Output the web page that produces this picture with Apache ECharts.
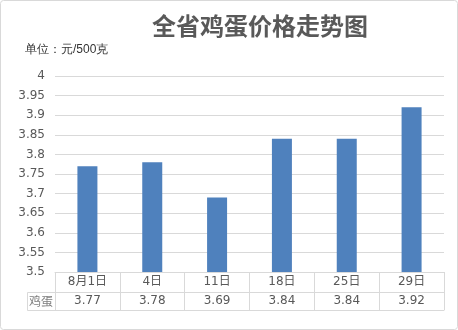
<!DOCTYPE html>
<html><head><meta charset="utf-8">
<script src="https://cdn.jsdelivr.net/npm/echarts@6/dist/echarts.min.js"></script>
<style>html,body{margin:0;padding:0;background:#fff}#c{width:458px;height:330px}</style>
</head><body><div id="c"></div>
<script>
const categories = ['8月1日', '4日', '11日', '18日', '25日', '29日'];
const eggPrices = [3.77, 3.78, 3.69, 3.84, 3.84, 3.92];
const seriesName = '鸡蛋';
const titleText = '全省鸡蛋价格走势图';
const unitText = '单位：元/500克';
const yMin = 3.5, yMax = 4, yStep = 0.05;

const grey = '#595959', line = '#d9d9d9';
const font = '"DejaVu Sans","Noto Sans CJK SC",sans-serif';
const chart = echarts.init(document.getElementById('c'));
chart.setOption({
  animation: false,
  backgroundColor: '#fff',
  title: {
    text: titleText, left: 255, textAlign: 'center', top: 9,
    textStyle: {fontSize: 24, fontWeight: 'bold', color: grey, fontFamily: '"Noto Sans CJK SC",sans-serif'}
  },
  grid: {left: 55, right: 14, top: 76, bottom: 58},
  xAxis: [
    {type: 'category', data: categories, position: 'bottom',
     axisLine: {show: true, lineStyle: {color: line}},
     axisTick: {show: true, length: 38, lineStyle: {color: line}},
     axisLabel: {margin: 4, color: grey, fontSize: 12, fontFamily: font}},
    {type: 'category', data: eggPrices.map(v => v.toFixed(2)), position: 'bottom', offset: 20,
     axisLine: {show: true, lineStyle: {color: line}},
     axisTick: {show: false},
     axisLabel: {margin: 3, color: grey, fontSize: 12, fontFamily: font}},
    {type: 'category', data: categories, position: 'bottom', offset: 38,
     axisLine: {show: true, lineStyle: {color: line}},
     axisTick: {show: false}, axisLabel: {show: false}}
  ],
  yAxis: {
    type: 'value', min: yMin, max: yMax, interval: yStep,
    axisLine: {show: false}, axisTick: {show: false},
    splitLine: {lineStyle: {color: line}},
    axisLabel: {margin: 10, color: grey, fontSize: 12, fontFamily: font,
      formatter: v => String(parseFloat(v.toFixed(2)))}
  },
  series: [{
    name: seriesName, type: 'bar', data: eggPrices, xAxisIndex: 0,
    barWidth: 20, itemStyle: {color: '#4f81bd'}
  }],
  graphic: [
    {type: 'rect', shape: {x: 0.5, y: 0.5, width: 457, height: 329, r: 3}, style: {fill: null, stroke: line, lineWidth: 1}, silent: true},
    {type: 'text', left: 25, top: 44, style: {text: unitText, fontSize: 12, fill: '#333', font: '12px "Liberation Serif","Noto Sans CJK SC",serif'}},
    {type: 'line', shape: {x1: 27.5, y1: 292.5, x2: 55, y2: 292.5}, style: {stroke: line, lineWidth: 1}},
    {type: 'line', shape: {x1: 27.5, y1: 310.5, x2: 55, y2: 310.5}, style: {stroke: line, lineWidth: 1}},
    {type: 'line', shape: {x1: 27.5, y1: 292.5, x2: 27.5, y2: 310.5}, style: {stroke: line, lineWidth: 1}},
    {type: 'text', x: 41, y: 301, style: {text: seriesName, fill: '#7f7f7f', font: '12px "Noto Sans CJK SC",sans-serif', align: 'center', verticalAlign: 'middle'}}
  ]
});
</script></body></html>
